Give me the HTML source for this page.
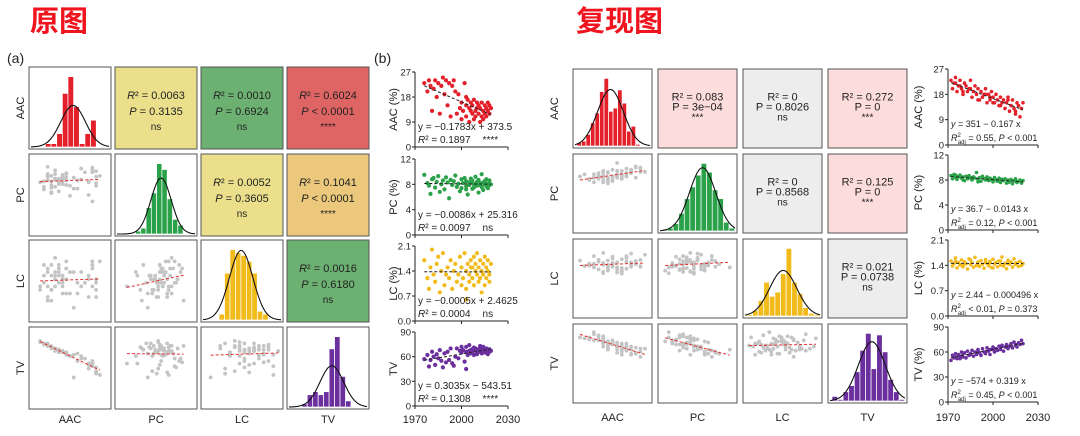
<!DOCTYPE html>
<html><head><meta charset="utf-8"><style>
html,body{margin:0;padding:0;background:#fff;width:1080px;height:436px;overflow:hidden}
svg{display:block;font-family:"Liberation Sans","Noto Sans CJK SC",sans-serif}
</style></head><body>
<svg id="root" width="1080" height="436" viewBox="0 0 1080 436" xmlns="http://www.w3.org/2000/svg">
<text x="30" y="31" font-size="29" font-weight="bold" fill="#f0141e" font-family="'Noto Sans CJK SC',sans-serif">原图</text>
<text x="576" y="31" font-size="29" font-weight="bold" fill="#f0141e" font-family="'Noto Sans CJK SC',sans-serif">复现图</text>
<text x="7" y="63" font-size="14" fill="#222">(a)</text>
<text x="374" y="63" font-size="14" fill="#222">(b)</text>
</svg>
<script>
// ---------- data: original figure ----------
const L_years=[1976,1978,1979,1980,1981,1982,1983,1984,1985,1986,1987,1988,1989,1990,1991,1992,1993,1994,1995,1996,1997,1998,1999,2000,2000,2001,2002,2003,2003,2004,2005,2005,2006,2007,2007,2008,2008,2009,2009,2010,2010,2011,2011,2012,2012,2013,2013,2014,2014,2015,2015,2016,2016,2017,2017,2018,2018,2019,2003,2006];
const L_aac=[23,20,24,22,13,21,24,18,23,12,22,25,19,24,15,23,11,22,24,20,12,19,14,16,10,13,23,15,11,17,14,9,16,12,15,10,17,13,11,14,16,12,15,9,14,11,16,13,10,15,12,14,11,13,16,12,15,14,18,13];
const L_pc=[9.5,8.2,7.8,6.5,8.8,9.0,7.5,8.4,9.3,6.8,8.0,8.6,7.2,9.1,8.3,5.8,8.7,7.9,8.5,9.4,7.6,8.1,6.9,8.8,7.4,8.2,9.0,7.7,8.5,6.4,8.3,7.9,8.9,7.3,8.6,8.0,7.5,9.2,8.1,7.8,8.4,6.7,8.7,7.9,8.2,9.6,7.6,8.3,7.1,8.5,8.0,7.7,8.8,7.4,8.1,8.6,7.9,8.0,7.2,8.3];
const L_lc=[1.7,1.2,0.9,1.5,2.0,1.3,1.1,1.6,1.8,0.8,1.4,1.9,1.0,1.3,1.5,1.2,1.7,0.9,1.4,1.6,1.1,1.3,1.8,1.0,1.5,1.2,1.9,1.4,0.9,1.6,1.3,1.1,1.7,1.5,1.2,1.8,1.0,1.4,1.6,1.3,1.9,1.1,1.5,1.2,1.7,0.8,1.4,1.6,1.3,1.0,1.8,1.5,1.2,1.4,1.7,1.1,1.3,1.6,0.6,1.5];
const L_tv=[57,62,48,56,66,60,50,63,58,68,55,47,64,53,66,56,70,52,49,60,70,58,67,65,72,68,54,66,72,62,67,74,64,69,66,71,62,68,70,65,63,69,66,73,67,70,64,68,72,65,69,67,70,68,63,69,66,67,45,68];
const L_hist_aac=[1,1,4,16,21,12,1,4,8];
const L_hist_pc=[1,2,9,14,24,22,12,5,3];
const L_hist_lc=[2,16,24,23,22,20,16,3,2];
const L_hist_tv=[1,4,5,4,5,19,23,10,2];
const L_r2=["0.0063","0.0010","0.6024","0.0052","0.1041","0.0016"];
const L_p=["= 0.3135","= 0.6924","< 0.0001","= 0.3605","< 0.0001","= 0.6180"];
const L_sig=["ns","ns","****","ns","****","ns"];
const L_eq=["y = \u22120.1783x + 373.5","y = \u22120.0086x + 25.316","y = \u22120.0005x + 2.4625","y = 0.3035x \u2212 543.51"];
const L_eqr2=["0.1897","0.0097","0.0004","0.1308"];
const L_eqsig=["****","ns","ns","****"];
// ---------- data: replica figure ----------
const R_years=[1972,1973,1974,1975,1976,1977,1978,1979,1980,1981,1982,1983,1984,1985,1986,1987,1988,1989,1990,1991,1992,1993,1994,1995,1996,1997,1998,1999,2000,2001,2002,2003,2004,2005,2006,2007,2008,2009,2010,2011,2012,2013,2014,2015,2016,2017,2018,2019,2020,1975,1980,1985,1990,1995,2000,2005,2010,2015,1978,1998];
const R_aac=[23,20,22,24,19,21,23,20,18,22,21,19,20,23,17,19,21,18,20,16,19,17,18,20,15,18,16,19,17,15,18,16,14,17,15,16,13,15,17,12,14,16,13,11,15,14,10,13,15,22,19,20,16,18,15,14,16,12,21,17];
const R_pc=[8.7,8.2,8.9,8.4,8.1,8.6,8.8,8.3,8.5,7.9,8.6,8.2,8.7,8.4,8.0,8.5,8.3,9.2,8.1,8.4,7.8,8.6,8.2,8.0,8.5,7.9,8.3,8.1,7.7,8.4,8.0,7.8,8.3,7.6,8.1,7.9,8.2,7.5,8.0,7.7,8.1,7.4,7.9,8.2,7.6,7.8,8.0,7.5,7.9,8.8,8.0,8.3,7.7,8.2,7.9,8.1,7.6,7.8,8.5,8.0];
const R_lc=[1.52,1.38,1.45,1.60,1.33,1.48,1.41,1.55,1.36,1.50,1.44,1.30,1.58,1.42,1.47,1.35,1.62,1.40,1.49,1.37,1.53,1.43,1.32,1.56,1.46,1.39,1.51,1.34,1.57,1.44,1.48,1.36,1.52,1.41,1.63,1.38,1.46,1.31,1.54,1.43,1.49,1.35,1.58,1.42,1.47,1.37,1.51,1.40,1.45,1.50,1.39,1.55,1.42,1.48,1.33,1.52,1.44,1.46,1.41,1.47];
const R_tv=[50,56,53,58,52,57,55,60,54,59,53,61,56,58,62,55,60,57,63,59,56,64,60,58,65,61,57,63,66,60,64,62,67,63,68,61,66,69,64,67,70,65,72,68,66,71,69,74,70,54,58,57,62,60,63,66,65,69,52,63];
const R_hist_aac=[2,3,7,14,20,33,41,21,23,34,26,9,12,1];
const R_hist_pc=[1,2,5,12,22,30,38,46,40,28,22,6,2];
const R_hist_lc=[1,4,11,24,14,17,30,48,24,16,6,2,1];
const R_hist_tv=[3,1,6,10,19,33,44,21,43,32,14,6,1];
const R_r2=["0.083","0","0.272","0","0.125","0.021"];
const R_p=["3e\u221204","0.8026","0","0.8568","0","0.0738"];
const R_sig=["***","ns","***","ns","***","ns"];
const R_eq=["351 \u2212 0.167 x","36.7 \u2212 0.0143 x","2.44 \u2212 0.000496 x","\u2212574 + 0.319 x"];
const R_eqr2=["= 0.55,","= 0.12,","< 0.01,","= 0.45,"];
const R_eqp=["< 0.001","< 0.001","= 0.373","< 0.001"];
const varNames=["AAC","PC","LC","TV"];
const yTicksTop=[27,12,2.1,90];

const NS="http://www.w3.org/2000/svg";
const root=document.getElementById('root');
function mk(tag,attrs,parent){const e=document.createElementNS(NS,tag);for(const k in attrs)e.setAttribute(k,attrs[k]);(parent||root).appendChild(e);return e;}
function fit(xs,ys){const n=xs.length;let mx=0,my=0;for(let i=0;i<n;i++){mx+=xs[i];my+=ys[i];}mx/=n;my/=n;let sxy=0,sxx=0;for(let i=0;i<n;i++){sxy+=(xs[i]-mx)*(ys[i]-my);sxx+=(xs[i]-mx)**2;}const b=sxy/sxx;return {b:b,a:my-b*mx};}
function lin(d0,d1,r0,r1){return v=>r0+(v-d0)/(d1-d0)*(r1-r0);}

function drawGrid(cfg){
  const vars=cfg.vars;
  for(let r=0;r<4;r++){
    const lab=mk('text',{x:cfg.rowLabX,y:cfg.ys[r]+cfg.h/2,'font-size':11,fill:'#222','text-anchor':'middle',transform:`rotate(-90 ${cfg.rowLabX} ${cfg.ys[r]+cfg.h/2})`});
    
    
    lab.textContent=varNames[r];
    const cl=mk('text',{x:cfg.xs[r]+cfg.w/2,y:cfg.colLabY,'font-size':11,fill:'#222','text-anchor':'middle'});
    
    
    cl.textContent=varNames[r];
  }
  let k=0;
  for(let r=0;r<4;r++){for(let c=0;c<4;c++){
    const x=cfg.xs[c],y=cfg.ys[r],w=cfg.w,h=cfg.h;
    const g=mk('g',{});
    
    
    if(c>r){
      const bg=mk('rect',{x:x,y:y,width:w,height:h,fill:cfg.cellFill[k],stroke:'#555','stroke-width':1},g);
      
      
      const d1=cfg.italic?-9:-8, d2=cfg.italic?7:2, d3=cfg.italic?22:12;
      const t=mk('text',{x:x+w/2,y:y+h/2+d1,'font-size':cfg.tsize,fill:'#222','text-anchor':'middle'},g);
      
      
      if(cfg.italic){t.innerHTML=`<tspan font-style="italic">R</tspan>² = ${cfg.r2[k]}`;}else{t.textContent='R² = '+cfg.r2[k];}
      const t2=mk('text',{x:x+w/2,y:y+h/2+d2,'font-size':cfg.tsize,fill:'#222','text-anchor':'middle'},g);
      
      
      if(cfg.italic){t2.innerHTML=`<tspan font-style="italic">P</tspan> ${cfg.p[k]}`;}else{t2.textContent='P = '+cfg.p[k];}
      const t3=mk('text',{x:x+w/2,y:y+h/2+d3,'font-size':cfg.tsize-1,fill:'#222','text-anchor':'middle'},g);
      
      
      t3.textContent=cfg.sig[k];
      k++;
    } else if(c===r){
      const bg=mk('rect',{x:x,y:y,width:w,height:h,fill:'#fff',stroke:'#555','stroke-width':1},g);
      
      
      const hist=cfg.hists[r];const nb=hist.length;
      const bx0=x+w*cfg.hr[r][0],bx1=x+w*cfg.hr[r][1];const bw=(bx1-bx0)/nb;
      let N=0,m=0;hist.forEach((v,i)=>{N+=v;m+=v*(i+0.5);});m/=N;let s2=0;hist.forEach((v,i)=>{s2+=v*(i+0.5-m)**2;});const sd=Math.sqrt(s2/N)*cfg.sdScale;
      const peak=N/(sd*Math.sqrt(2*Math.PI));const ymax=Math.max(peak,Math.max(...hist))*1.08;
      const sy=lin(0,ymax,y+h-2,y+4);
      hist.forEach((v,i)=>{
        const b=mk('rect',{x:bx0+i*bw,y:sy(v),width:bw,height:(y+h-2)-sy(v),fill:cfg.colors[r],stroke:'#fff','stroke-width':0.7},g);
        
        
      });
      let d='';for(let px=x+2;px<=x+w-2;px+=1){const u=(px-bx0)/bw;const dv=N*Math.exp(-((u-m)**2)/(2*sd*sd))/(sd*Math.sqrt(2*Math.PI));d+=(d?'L':'M')+px.toFixed(1)+','+sy(dv).toFixed(1);}
      const cv=mk('path',{d:d,fill:'none',stroke:'#111','stroke-width':1.1},g);
      
      
    } else {
      const bg=mk('rect',{x:x,y:y,width:w,height:h,fill:'#fff',stroke:'#555','stroke-width':1},g);
      
      
      const xd=cfg.xdom[c],yd=cfg.ydom[r];
      const sx=lin(xd[0],xd[1],x,x+w),sy=lin(yd[0],yd[1],y+h,y);
      const X=vars[c],Y=vars[r];
      for(let i=0;i<X.length;i++){
        const pt=mk('circle',{cx:sx(X[i]),cy:sy(Y[i]),r:1.9,fill:'#c4c4c4'},g);
        
        
      }
      const f=fit(X,Y);const x0=Math.min(...X),x1=Math.max(...X);
      const ln=mk('line',{x1:sx(x0),y1:sy(f.a+f.b*x0),x2:sx(x1),y2:sy(f.a+f.b*x1),stroke:'#e0302c','stroke-width':1,'stroke-dasharray':'3,2'},g);
      
      
    }
  }}
}

function drawTrends(cfg){
  const vars=cfg.vars;
  for(let r=0;r<4;r++){
    const g=mk('g',{});
    
    
    const top=cfg.tops[r],bot=cfg.bots[r];
    const sx=lin(1970,2030,cfg.x0,cfg.x1),sy=lin(0,yTicksTop[r],bot,top);
    const ax=mk('path',{d:`M${cfg.x0},${top}V${bot}H${cfg.x1}`,fill:'none',stroke:'#222','stroke-width':1},g);
    
    
    for(let t=0;t<4;t++){
      const v=yTicksTop[r]*t/3;const yy=sy(v);
      mk('line',{x1:cfg.x0-3,x2:cfg.x0,y1:yy,y2:yy,stroke:'#222'},g);
      const tl=mk('text',{x:cfg.x0-4,y:yy+3.5,'font-size':9.5,fill:'#222','text-anchor':'end'},g);
      
      
      tl.textContent=(r===2)?v.toFixed(1):String(Math.round(v));
    }
    [1970,2000,2030].forEach(yr=>{mk('line',{x1:sx(yr),x2:sx(yr),y1:bot,y2:bot+3,stroke:'#222'},g);});
    const yt=mk('text',{x:cfg.titleX,y:(top+bot)/2,'font-size':11,fill:'#222','text-anchor':'middle',transform:`rotate(-90 ${cfg.titleX} ${(top+bot)/2})`},g);
    
    
    yt.textContent=cfg.titles[r];
    const Y=vars[r];
    for(let i=0;i<Y.length;i++){
      const pt=mk('circle',{cx:sx(cfg.years[i]),cy:sy(Y[i]),r:cfg.pr,fill:cfg.colors[r]},g);
      
      
    }
    const f=fit(cfg.years,Y);const a0=Math.min(...cfg.years),a1=Math.max(...cfg.years);
    const ln=mk('line',{x1:sx(a0),y1:sy(f.a+f.b*a0),x2:sx(a1),y2:sy(f.a+f.b*a1),stroke:'#222','stroke-width':1,'stroke-dasharray':'3,2'},g);
    
    
    const e1=mk('text',{x:cfg.x0+3,y:bot-(cfg.italic?18:17),'font-size':cfg.fs,fill:'#222'},g);
    
    
    const e2=mk('text',{x:cfg.x0+3,y:bot-4,'font-size':cfg.fs,fill:'#222'},g);
    
    
    if(cfg.italic){
      e1.innerHTML=`<tspan font-style="italic">y</tspan> = ${R_eq[r]}`;
      e2.innerHTML=`<tspan font-style="italic">R</tspan><tspan font-size="6" dy="-4">2</tspan><tspan font-size="6" dx="-3" dy="7">adj</tspan><tspan dy="-3"> ${R_eqr2[r]} </tspan><tspan font-style="italic">P</tspan> ${R_eqp[r]}`;
    } else {
      e1.textContent=L_eq[r];
      e2.innerHTML=`<tspan font-style="italic">R</tspan>² = ${L_eqr2[r]}<tspan dx="12">${L_eqsig[r]}</tspan>`;
    }
  }
  [1970,2000,2030].forEach(yr=>{
    const xl=mk('text',{x:lin(1970,2030,cfg.x0,cfg.x1)(yr),y:cfg.xlabY,'font-size':11,fill:'#222','text-anchor':'middle'});
    
    
    xl.textContent=String(yr);
  });
}

const histColors=['#e4202a','#2ba24a','#f2bb1c','#6b2f9e'];
drawGrid({vars:[L_aac,L_pc,L_lc,L_tv],xs:[29,115,201,287],ys:[67,154,240,327],w:82,h:82,rowLabX:24,colLabY:423,
  cellFill:['#ebdf8c','#6db172','#df6464','#ebdf8c','#ebc87b','#6db172'],r2:L_r2,p:L_p,sig:L_sig,italic:true,tsize:11,sdScale:1.2,
  hists:[L_hist_aac,L_hist_pc,L_hist_lc,L_hist_tv],hr:[[0.2,0.82],[0.25,0.83],[0.22,0.82],[0.18,0.78]],colors:histColors,
  xdom:[[6,28],[5,10.5],[0.4,2.1]],ydom:[null,[2,11],[0.2,2.5],[20,85]]});
drawGrid({vars:[R_aac,R_pc,R_lc,R_tv],xs:[573,658,743,828],ys:[69,154,239,324],w:79,h:79,rowLabX:558,colLabY:421,
  cellFill:['#fddcdc','#ededed','#fddcdc','#ededed','#fddcdc','#ededed'],r2:R_r2,p:R_p,sig:R_sig,italic:false,tsize:11,sdScale:1.05,
  hists:[R_hist_aac,R_hist_pc,R_hist_lc,R_hist_tv],hr:[[0.05,0.85],[0.05,0.97],[0.05,0.97],[0.05,0.97]],colors:histColors,
  xdom:[[8.5,25.5],[7.2,9.4],[1.27,1.66]],ydom:[null,[3,10],[0.6,1.85],[5,82]]});
drawTrends({vars:[L_aac,L_pc,L_lc,L_tv],years:L_years,x0:415,x1:508,tops:[72,159,246,332],bots:[147,235,321,406],titleX:397,
  titles:['AAC (%)','PC (%)','LC (%)','TV'],colors:histColors,pr:2.1,italic:false,fs:10,xlabY:423});
drawTrends({vars:[R_aac,R_pc,R_lc,R_tv],years:R_years,x0:948,x1:1038,tops:[69,155,240,327],bots:[145,230,316,402],titleX:922,
  titles:['AAC (%)','PC (%)','LC (%)','TV (%)'],colors:histColors,pr:1.8,italic:true,fs:9,xlabY:421});
</script>
</body></html>
